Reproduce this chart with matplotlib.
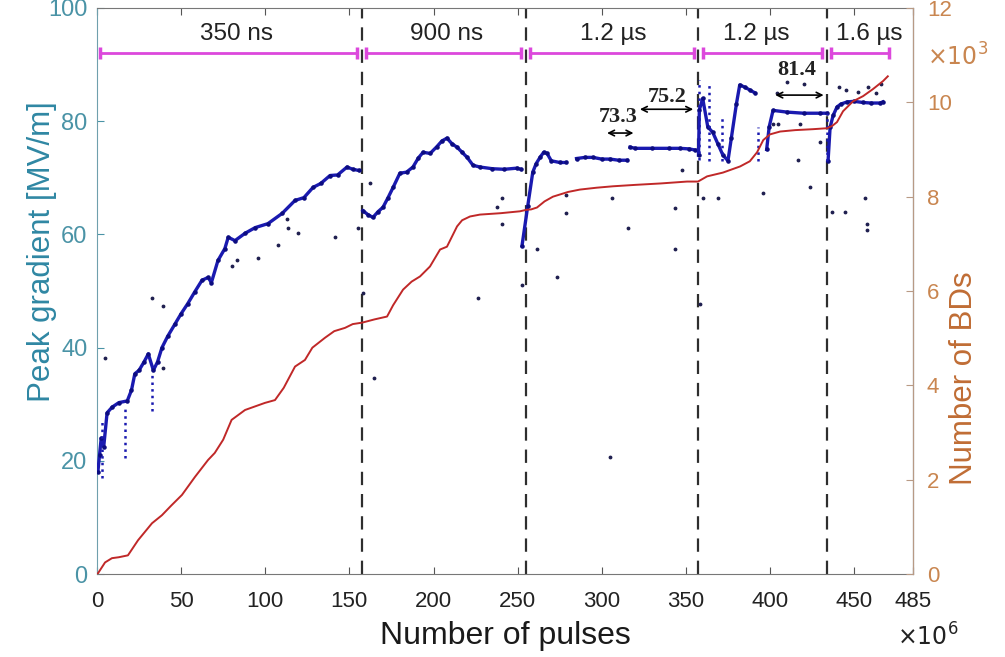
import numpy as np
import matplotlib
matplotlib.use("Agg")
import matplotlib.pyplot as plt

plt.rcParams['font.family'] = ['Liberation Sans', 'DejaVu Sans']

# ---- dados ----
# gradiente de pico [MV/m], por periodo de largura de pulso (x em 1e6 pulsos)
g350_x = [0.5, 1.5, 2.5, 4, 6, 9, 13, 18, 20.5, 22.5, 25, 28, 30.5, 33.5, 36, 38.6, 42, 46.4, 50, 54,
          58, 62.4, 66, 68, 71.9, 76, 78, 82, 88, 94, 101.6, 110, 117.7, 123, 128.4, 133, 138.5, 143,
          148.6, 152, 155.5]
g350_y = [18, 21, 24, 22.5, 28.5, 29.5, 30.3, 30.6, 32.5, 35.4, 36, 37.5, 38.9, 36, 37.5, 40, 42, 44.2,
          46, 47.8, 49.8, 51.9, 52.4, 51.5, 55.4, 57.5, 59.5, 58.9, 60.2, 61.2, 61.9, 63.7, 66, 66.5,
          68.3, 69, 70.4, 70.5, 71.9, 71.5, 71.3]

g900_x = [158, 161, 164, 167, 170, 173, 176, 180, 184, 187.8, 191, 193.8, 198, 202, 205, 208, 211, 214,
          217, 220, 223.5, 227.6, 235, 242, 249.6, 252]
g900_y = [64.2, 63.5, 63, 64, 64.8, 66.5, 68.3, 70.8, 71, 71.9, 73.5, 74.5, 74.3, 75.5, 76.5, 77, 76,
          75.4, 74.5, 73.6, 72.2, 71.9, 71.6, 71.5, 71.7, 71.5]

g12a_x = [252.6, 256, 259, 261, 263.3, 265.5, 267.5, 270, 275, 279, np.nan, 285, 290, 294.8, 300, 305,
          310, 315, np.nan, 316.8, 320, 330, 340, 346.5, 352, 355.5]
g12a_y = [58, 65, 71, 72.5, 73.6, 74.5, 74.3, 73, 72.7, 72.7, np.nan, 73.4, 73.6, 73.6, 73.3, 73.3,
          73.1, 73.1, np.nan, 75.4, 75.2, 75.2, 75.2, 75.2, 75.1, 74.9]

g12b_x = [357.5, 358, 360, 363, 366, 369, 372, 375, 377, 380, 382, 385, 388, 391, np.nan, 398, 399.5,
          401.8, 410, 420, 430, 433.9]
g12b_y = [74, 82, 84, 79, 78, 76, 74, 73, 77, 83, 86.4, 86, 85.5, 85, np.nan, 75, 79, 81.9, 81.6, 81.4,
          81.4, 81.4]

g16_x = [434.5, 435.7, 437.5, 439.8, 442, 445.8, 450, 455, 460, 465.4, 467]
g16_y = [73, 78.9, 81, 82.5, 83, 83.4, 83.5, 83.3, 83.2, 83.2, 83.4]

# quedas verticais (x, topo, base)
queda_x = [3, 16.6, 32.7, 357.5, 364, 371.5, 392.9, 434]
queda_top = [27, 29.4, 35.4, 87.3, 87, 81, 79, 81.4]
queda_bot = [17, 20.5, 28.8, 73.1, 73, 73, 73, 73]

# pontos isolados
out_x = [4.8, 32.7, 39.2, 39.2, 80.2, 83.2, 95.7, 107.6, 113.5, 112.9, 119.5, 141.5, 155.1, 162.3, 158,
         164.6, 226.4, 273.4, 261.5, 252.6, 240.7, 237.7, 241, 279, 279, 306, 315.6, 343.5, 343.5, 347.7,
         360, 369, 395.8, 416.6, 423.8, 429.7, 436.9, 444.6, 456.5, 457.7, 457.7, 305, 358.4, 441, 445,
         452, 458, 463, 466, 404, 410, 420, 402, 405, 418]
out_y = [38.2, 48.7, 47.3, 36.5, 54.5, 55.4, 55.8, 58.1, 61.1, 62.8, 60.2, 59.6, 61.1, 69, 49.6, 34.7,
         48.7, 52.4, 57.5, 51, 61.9, 64.8, 66.5, 63.7, 66.9, 66.5, 61.1, 64.6, 57.5, 71.3, 66.4, 66.4,
         67.4, 73.1, 68.3, 76.3, 63.9, 63.9, 66.5, 61.9, 60.8, 20.7, 47.8, 86, 85.5, 85.2, 86, 85,
         86.5, 85, 87, 86.5, 79.5, 79.5, 79.5]

# numero acumulado de BDs (x1000)
bd_x = [0, 0.6, 4.8, 8.9, 13, 18.4, 24.4, 32.7, 38.6, 44, 50.5, 58.2, 66, 70, 75, 80, 88, 99.8, 105.8,
        111, 117.7, 123.6, 128, 135.5, 141, 147.4, 152, 157.5, 165, 172.4, 176, 181.9, 187, 192, 197.9,
        203.9, 208, 214, 217, 221.7, 227.6, 240, 251.4, 255, 258, 261.5, 266, 271, 280, 287, 297, 306.7,
        320, 335, 350.7, 357.2, 362.6, 372, 382.2, 388, 392.3, 396, 400, 406, 415, 425.6, 433.9, 437,
        439.8, 443.4, 449.3, 455.3, 461.2, 467.2, 470]
bd_y = [0.0, 0.02, 0.25, 0.34, 0.36, 0.40, 0.72, 1.08, 1.25, 1.45, 1.68, 2.06, 2.42, 2.57, 2.85, 3.27,
        3.48, 3.63, 3.69, 3.95, 4.40, 4.54, 4.80, 5.01, 5.15, 5.22, 5.30, 5.33, 5.40, 5.46, 5.70, 6.03,
        6.2, 6.31, 6.52, 6.88, 6.94, 7.37, 7.50, 7.58, 7.62, 7.65, 7.69, 7.72, 7.73, 7.77, 7.90, 8.00,
        8.10, 8.15, 8.19, 8.22, 8.25, 8.28, 8.32, 8.32, 8.43, 8.51, 8.64, 8.75, 8.94, 9.2, 9.32, 9.38,
        9.41, 9.43, 9.45, 9.5, 9.58, 9.81, 10.02, 10.13, 10.28, 10.45, 10.55]

# periodos de pulso
fronteiras = [157.5, 255, 357, 434]
seg_ini = [1.8, 159.8, 257.5, 360, 436.5]
seg_fim = [154.5, 252, 355, 431, 471]
seg_txt = ["350 ns", "900 ns", "1.2 µs", "1.2 µs", "1.6 µs"]
seg_txt_x = [83, 208, 307, 392, 459]

# ---- figura ----
c_esq = "#2f87a3"
c_esq_tick = "#4a93a6"
c_dir = "#c06d35"
c_dir_tick = "#c98650"
azul = "#1a1ab0"

fig = plt.figure(figsize=(10.05, 6.57), dpi=100)
ax = fig.add_axes([0.0965, 0.126, 0.812, 0.862])

for xs, ys in [(g350_x, g350_y), (g900_x, g900_y), (g12a_x, g12a_y), (g12b_x, g12b_y), (g16_x, g16_y)]:
    ax.plot(xs, ys, color=azul, lw=2.4, marker=".", ms=4.5, mfc="#0c0c80", mec="#0c0c80", zorder=3)
ax.vlines(queda_x, queda_bot, queda_top, colors=azul, linestyles=":", lw=1.8, zorder=3)
ax.plot(out_x, out_y, ls="none", marker=".", ms=3.5, color="#202050", zorder=3)

for xf in fronteiras:
    ax.axvline(xf, color="#2e2e2e", lw=1.6, dashes=(6, 4), zorder=2)

for x0, x1 in zip(seg_ini, seg_fim):
    ax.plot([x0, x1], [92, 92], color="#dc48dc", lw=2, zorder=4)
    ax.plot([x0, x1], [92, 92], ls="none", marker="|", ms=8, mew=2.5, color="#dc48dc", zorder=4)
for tx, t in zip(seg_txt_x, seg_txt):
    ax.text(tx, 95.4, t, ha="center", va="center", fontsize=17.5, color="#222222")

# anotacoes dos patamares
serif = dict(family="Liberation Serif", weight="bold", fontsize=16, color="#222222")
ax.annotate("", xy=(301.5, 77.9), xytext=(320.5, 77.9),
            arrowprops=dict(arrowstyle="<->", color="k", lw=1.2))
ax.text(310, 80.8, "73.3", ha="center", va="center", **serif)
ax.annotate("", xy=(321, 82.1), xytext=(356, 82.1),
            arrowprops=dict(arrowstyle="<->", color="k", lw=1.2))
ax.text(339, 84.3, "75.2", ha="center", va="center", **serif)
ax.annotate("", xy=(401.5, 84.6), xytext=(433.5, 84.6),
            arrowprops=dict(arrowstyle="<->", color="k", lw=1.2))
ax.text(416, 89, "81.4", ha="center", va="center", **serif)

ax.set_xlim(0, 485)
ax.set_ylim(0, 100)
ax.set_xticks([0, 50, 100, 150, 200, 250, 300, 350, 400, 450, 485])
ax.set_yticks([0, 20, 40, 60, 80, 100])
ax.tick_params(axis="x", direction="in", top=True, labelsize=16, colors="#555555",
               labelcolor="#222222", length=5, pad=12)
ax.tick_params(axis="y", direction="in", labelsize=17, colors=c_esq_tick, length=5, pad=7)
ax.set_xlabel("Number of pulses", fontsize=23, color="#1a1a1a")
ax.xaxis.set_label_coords(0.5, -0.082)
ax.set_ylabel("Peak gradient [MV/m]", fontsize=22.5, color=c_esq)
ax.yaxis.set_label_coords(-0.049, 0.57)
for s in ["top", "bottom"]:
    ax.spines[s].set_color("#777777")
ax.spines["left"].set_color("#6fa0ad")

ax2 = ax.twinx()
ax2.plot(bd_x, bd_y, color="#c02828", lw=1.4, zorder=5)
ax2.set_ylim(0, 12)
ax2.set_yticks([0, 2, 4, 6, 8, 10, 12])
ax2.tick_params(axis="y", direction="in", labelsize=16, colors="#b89a85",
                labelcolor=c_dir_tick, length=5, pad=10)
ax2.set_ylabel("Number of BDs", fontsize=22.5, color=c_dir)
ax2.yaxis.set_label_coords(1.044, 0.346)
ax2.spines["right"].set_color("#b89a85")
for s in ["top", "bottom", "left"]:
    ax2.spines[s].set_visible(False)

fig.text(0.893, 0.018, r"$\times10^6$", fontsize=17, color="#222222")
fig.text(0.922, 0.9, r"$\times10^3$", fontsize=17, color=c_dir_tick)

fig.savefig("out.png", dpi=100)
